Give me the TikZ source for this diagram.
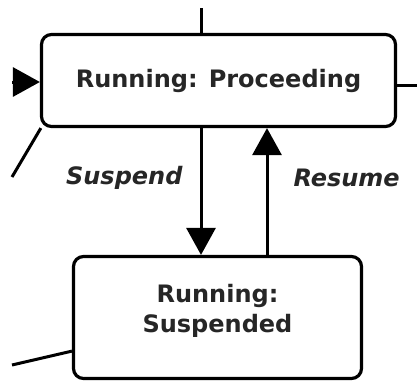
\documentclass[tikz,border=0pt]{standalone}
\usepackage{fontspec}
\newfontfamily\statefont{DejaVu Sans}
\usepackage{tikz}
\usetikzlibrary{calc}
\usetikzlibrary{arrows.meta}

\begin{document}
\begin{tikzpicture}
    [x=1pt, y=-1pt,
     state/.style={rectangle, rounded corners=10pt, draw=black, line width=3.2pt},
     statelabel/.style={font=\statefont\bfseries\fontsize{24}{30}\selectfont, text=black!85, align=center},
     flow/.style={line width=3pt},
     trigger/.style={flow, -{Triangle[length=27pt,width=29pt]}},
     event/.style={font=\statefont\bfseries\itshape\fontsize{24}{30}\selectfont, text=black!85, inner sep=0pt}]
    \useasboundingbox (0,0) rectangle (417,383);
    \node(proc)[state, statelabel, minimum width=354pt, minimum height=92pt] at (218.5,80.5) {Running: Proceeding};
    \node(susp)[state, minimum width=288pt, minimum height=122pt] at (217.5,317.5) {};
    \node(susptext)[statelabel] at (217.5,310.5) {Running:\\Suspended};
    \coordinate(topin) at (201,8);
    \coordinate(resumex) at ([xshift=66pt]topin);
    \coordinate(leftin) at (12,82);
    \coordinate(rightout) at (417,85);
    \coordinate(diagout) at (12,177);
    \coordinate(lowout) at (12,365);
    \draw[flow] (topin) -- (topin |- proc.north);
    \draw[trigger] (leftin) -- (leftin -| proc.west);
    \draw[flow] (proc.east |- rightout) -- (rightout);
    \draw[flow] (proc.195) -- (diagout);
    \draw[flow] (susp.193) -- (lowout);
    \draw[trigger] (topin |- proc.south) -- (topin |- susp.north)
        node[event, pos=0.39, left=17pt] {Suspend};
    \draw[trigger] (resumex |- susp.north) -- (resumex |- proc.south)
        node[event, pos=0.61, right=25pt] {Resume};
\end{tikzpicture}
\end{document}
